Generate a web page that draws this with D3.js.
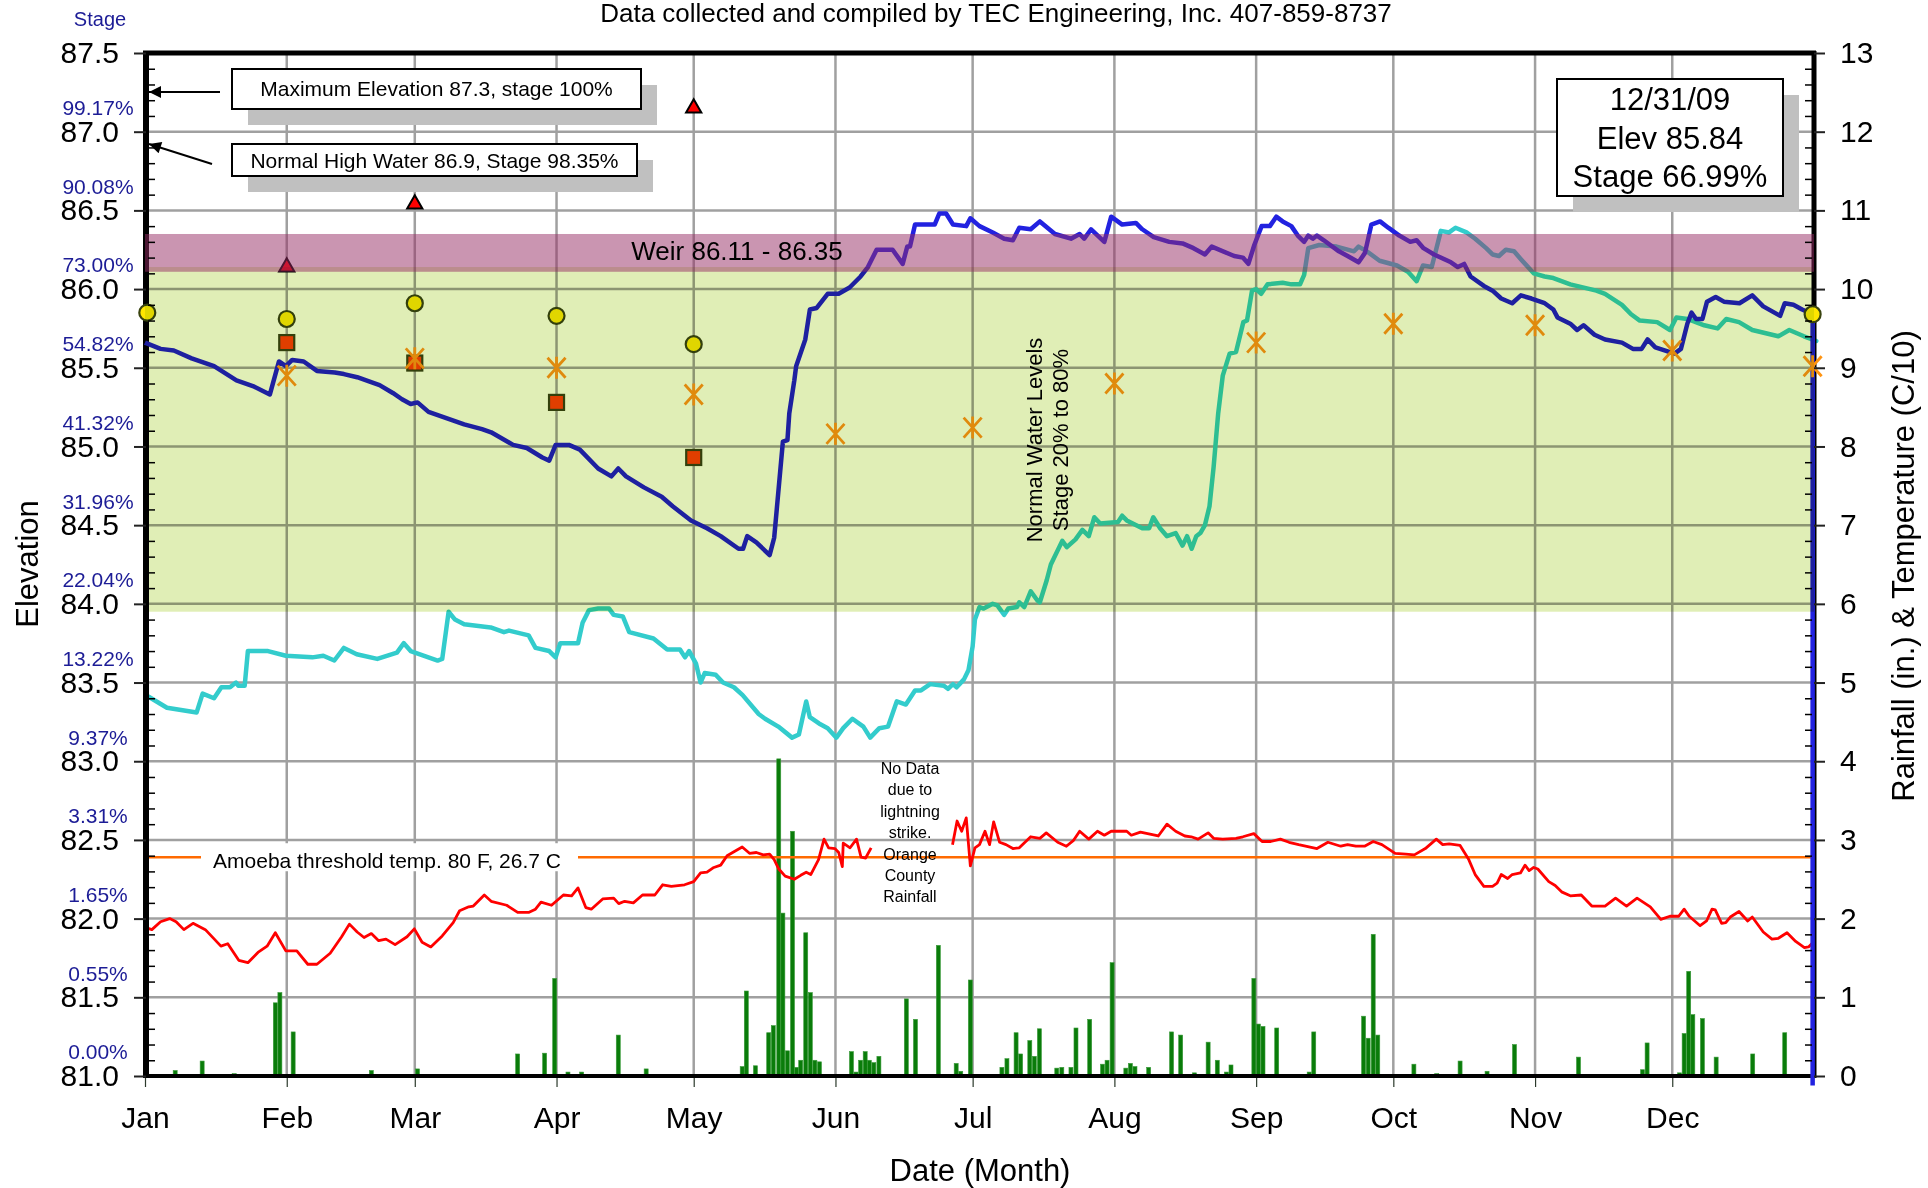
<!DOCTYPE html>
<meta charset="utf-8">
<script src="https://d3js.org/d3.v7.min.js"></script>
<style>
  body { margin: 0; background: #fff; }
  svg text { font-family: "Liberation Sans", Arial, sans-serif; }
</style>
<div id="chart"></div>
<script>

  // ---- data ----
  var months = ["Jan", "Feb", "Mar", "Apr", "May", "Jun", "Jul", "Aug", "Sep", "Oct", "Nov", "Dec"];
  var monthStartDays = [0, 31, 59, 90, 120, 151, 181, 212, 243, 273, 304, 334];

  var elevTicks = [81.0, 81.5, 82.0, 82.5, 83.0, 83.5, 84.0, 84.5, 85.0, 85.5, 86.0, 86.5, 87.0, 87.5];
  // stage % shown next to the elevations 81.0 ... 87.0
  var stageLabels = ["0.00%", "0.55%", "1.65%", "3.31%", "9.37%", "13.22%", "22.04%",
    "31.96%", "41.32%", "54.82%", "73.00%", "90.08%", "99.17%"];
  var rightTicks = [0, 1, 2, 3, 4, 5, 6, 7, 8, 9, 10, 11, 12, 13];

  var normalBand = [83.95, 86.14];   // normal water levels (stage 20% to 80%)
  var weirBand = [86.11, 86.35];
  var amoebaThreshold = 2.78;        // right axis units

  // elevation 2009 [day of year, ft]
  var elevation = [[0,85.66],[3.4,85.62],[6.3,85.61],[10.2,85.56],[15.1,85.51],[20.0,85.42],[23.9,85.38],[27.3,85.33],
    [29.3,85.54],[30.8,85.51],[32.2,85.55],[34.7,85.54],[37.6,85.48],[41.5,85.47],[43.5,85.46],[46.4,85.44],[49.3,85.41],
    [51.3,85.39],[54.2,85.34],[56.2,85.30],[58.1,85.27],[59.6,85.28],[62.0,85.22],[65.9,85.18],[69.8,85.14],[73.7,85.11],
    [75.7,85.09],[80.5,85.01],[83.5,84.99],[86.9,84.93],[88.4,84.91],[89.8,85.01],[92.7,85.01],[95.1,84.98],[99.1,84.86],
    [102.0,84.81],[103.5,84.86],[105.2,84.81],[109.1,84.74],[113.0,84.68],[115.4,84.62],[119.4,84.53],[122.9,84.48],
    [125.9,84.43],[129.8,84.35],[130.8,84.35],[131.7,84.43],[133.7,84.39],[136.6,84.31],[137.6,84.42],[139.5,85.03],
    [140.5,85.04],[140.9,85.21],[142.0,85.42],[142.4,85.51],[144.4,85.68],[145.4,85.87],[146.9,85.88],[149.3,85.97],
    [151.7,85.97],[154.1,86.01],[156.5,86.08],[158.1,86.14],[160.0,86.25],[163.5,86.25],[165.7,86.16],[166.7,86.27],
    [167.3,86.27],[168.4,86.41],[172.7,86.41],[173.7,86.48],[175.2,86.48],[176.7,86.41],[179.6,86.40],[180.5,86.45],
    [182.5,86.40],[185.4,86.36],[187.9,86.32],[189.8,86.31],[191.2,86.39],[193.7,86.38],[195.7,86.43],[199.0,86.35],
    [202.5,86.32],[204.4,86.35],[205.4,86.32],[206.9,86.38],[209.8,86.30],[211.3,86.46],[213.7,86.41],[216.7,86.42],
    [218.1,86.38],[220.6,86.33],[224.0,86.30],[226.9,86.29],[229.3,86.26],[231.8,86.22],[233.3,86.27],[238.2,86.21],
    [240.1,86.20],[241.3,86.16],[242.6,86.28],[244.2,86.40],[246.0,86.40],[247.4,86.46],[248.8,86.43],[250.7,86.40],
    [252.1,86.34],[253.5,86.30],[254.4,86.34],[255.4,86.32],[256.3,86.34],[257.8,86.31],[259.2,86.28],[261.1,86.24],
    [263.0,86.21],[265.4,86.17],[266.8,86.23],[268.2,86.41],[270.1,86.43],[271.9,86.39],[274.3,86.34],[276.7,86.30],
    [278.1,86.31],[279.6,86.26],[281.9,86.22],[285.6,86.17],[287.1,86.14],[288.5,86.16],[289.9,86.08],[292.8,86.02],
    [294.7,85.99],[296.6,85.94],[299.0,85.91],[300.9,85.96],[303.2,85.94],[306.1,85.91],[308.0,85.87],[308.9,85.82],
    [311.7,85.78],[313.2,85.74],[314.6,85.77],[317.0,85.71],[319.3,85.68],[323.0,85.66],[325.4,85.62],[327.3,85.62],
    [328.6,85.68],[330.3,85.63],[334.5,85.59],[335.9,85.62],[337.3,85.78],[338.2,85.85],[339.2,85.81],[340.6,85.81],
    [341.6,85.92],[343.5,85.95],[345.3,85.92],[348.7,85.91],[351.5,85.96],[353.9,85.89],[357.6,85.83],[358.6,85.91],
    [360.5,85.90],[362.4,85.87],[364.7,85.84],[364.7,80.94]];

  // elevation, prior year (teal line)
  var elevationPrior = [[0.8,83.41],[4.8,83.34],[11.3,83.31],[12.6,83.43],[15.1,83.40],[16.7,83.47],[18.6,83.47],
    [19.9,83.50],[20.4,83.48],[21.8,83.48],[22.5,83.70],[26.9,83.70],[30.8,83.67],[36.6,83.66],[39.0,83.67],[41.4,83.64],
    [43.5,83.72],[46.3,83.68],[50.8,83.65],[55.1,83.69],[56.6,83.75],[58.1,83.70],[64.0,83.64],[65.0,83.65],[66.4,83.95],
    [67.8,83.90],[69.8,83.87],[75.6,83.85],[78.5,83.82],[79.6,83.83],[83.9,83.80],[85.4,83.72],[88.4,83.70],[89.8,83.66],
    [90.8,83.75],[94.7,83.75],[95.7,83.88],[97.1,83.96],[99.1,83.97],[101.5,83.97],[102.5,83.93],[104.5,83.92],
    [105.9,83.82],[111.2,83.78],[114.2,83.71],[117.0,83.71],[118.1,83.66],[119.0,83.70],[120.5,83.62],[121.5,83.50],
    [122.4,83.56],[124.8,83.55],[126.4,83.50],[128.8,83.47],[130.7,83.42],[134.2,83.30],[135.6,83.27],[138.5,83.22],
    [141.5,83.15],[143.0,83.17],[144.6,83.38],[145.4,83.28],[147.4,83.24],[149.3,83.21],[151.2,83.15],[152.7,83.21],
    [154.7,83.27],[157.1,83.22],[158.6,83.15],[160.6,83.21],[162.5,83.22],[164.4,83.38],[166.4,83.36],[168.4,83.45],
    [169.7,83.45],[171.7,83.49],[174.7,83.48],[175.6,83.46],[176.7,83.49],[177.5,83.47],[179.1,83.52],[180.1,83.58],
    [181.0,83.73],[181.5,83.90],[182.5,83.98],[183.4,83.97],[185.4,84.00],[186.4,83.99],[187.9,83.93],[188.8,83.97],
    [190.7,83.98],[191.2,84.01],[192.3,83.98],[193.7,84.08],[195.2,84.02],[195.7,84.01],[197.2,84.15],[198.1,84.25],
    [200.6,84.40],[201.6,84.36],[203.5,84.41],[205.0,84.47],[206.4,84.43],[207.6,84.55],[208.9,84.51],[212.8,84.52],
    [213.7,84.56],[214.7,84.53],[218.1,84.48],[219.6,84.48],[220.5,84.55],[222.0,84.48],[223.5,84.43],[225.4,84.45],
    [226.9,84.37],[227.9,84.43],[228.9,84.35],[229.9,84.43],[230.8,84.45],[231.8,84.50],[232.8,84.62],[233.7,84.87],
    [234.7,85.21],[235.7,85.45],[237.2,85.59],[238.6,85.60],[240.2,85.79],[241.0,85.80],[242.1,85.99],[243.0,86.00],
    [244.1,85.97],[245.5,86.03],[248.8,86.04],[250.7,86.03],[252.6,86.03],[253.5,86.09],[254.4,86.26],[256.8,86.28],
    [260.6,86.27],[264.4,86.24],[265.4,86.27],[267.2,86.24],[270.0,86.18],[273.8,86.15],[276.2,86.11],[278.1,86.05],
    [279.5,86.15],[281.4,86.14],[283.4,86.37],[285.2,86.36],[286.6,86.39],[289.0,86.36],[290.9,86.32],[293.3,86.26],
    [294.7,86.22],[296.1,86.21],[297.6,86.25],[299.4,86.24],[300.9,86.19],[303.7,86.10],[306.1,86.08],[308.0,86.07],
    [311.7,86.03],[317.4,85.99],[319.3,85.97],[323.0,85.90],[325.0,85.84],[326.9,85.80],[330.7,85.79],[333.5,85.74],
    [334.9,85.82],[337.3,85.81],[341.0,85.77],[343.9,85.75],[345.8,85.81],[348.6,85.79],[351.5,85.74],[357.2,85.70],
    [359.6,85.74],[362.8,85.70],[365.5,85.67]];

  // water temperature (C/10), before and after the lightning gap
  var tempBefore = [[0.5,1.88],[1.5,1.86],[3.4,1.96],[5.4,2.00],[6.8,1.96],[8.5,1.86],[10.5,1.94],[13.2,1.86],[16.6,1.65],
    [18.1,1.68],[20.5,1.47],[22.5,1.44],[24.7,1.57],[26.7,1.65],[28.5,1.82],[30.8,1.59],[33.2,1.59],[35.6,1.42],[37.6,1.42],
    [40.5,1.56],[43.0,1.77],[44.7,1.93],[46.4,1.83],[47.9,1.76],[49.5,1.81],[51.1,1.72],[52.7,1.74],[54.7,1.67],[57.3,1.77],
    [58.9,1.87],[60.6,1.70],[62.5,1.64],[65.0,1.78],[67.4,1.95],[68.8,2.10],[70.8,2.15],[71.8,2.16],[74.2,2.30],[75.7,2.22],
    [79.1,2.17],[81.5,2.08],[84.0,2.08],[85.4,2.12],[86.6,2.21],[88.9,2.17],[91.5,2.30],[93.3,2.29],[94.7,2.39],[96.4,2.14],
    [97.6,2.12],[100.1,2.25],[102.5,2.26],[103.6,2.19],[104.9,2.22],[106.8,2.20],[108.8,2.30],[111.5,2.30],[113.2,2.43],
    [115.1,2.41],[118.0,2.43],[120.0,2.47],[121.5,2.58],[122.9,2.59],[124.4,2.65],[125.9,2.68],[127.3,2.80],[128.8,2.85],
    [130.6,2.91],[132.2,2.83],[133.7,2.84],[135.2,2.81],[136.6,2.82],[137.6,2.75],[138.6,2.63],[140.0,2.54],[142.0,2.50],
    [143.4,2.55],[144.6,2.59],[145.6,2.56],[147.3,2.75],[148.5,3.01],[149.5,2.90],[150.9,2.89],[151.7,2.84],[152.5,2.66],
    [152.7,2.96],[154.2,2.90],[155.6,3.01],[156.6,2.78],[157.6,2.77],[158.8,2.90]];
  var tempAfter = [[176.6,2.94],[177.6,3.24],[178.6,3.11],[179.6,3.28],[180.5,2.67],[181.5,2.90],[182.5,2.94],[183.7,3.11],
    [184.7,2.94],[185.6,3.23],[186.9,2.97],[188.3,2.94],[189.8,2.89],[191.2,2.90],[193.7,3.04],[195.7,3.02],[197.1,3.09],
    [199.6,2.97],[201.5,2.92],[203.0,2.99],[204.4,3.11],[206.4,3.01],[208.3,3.11],[209.8,3.06],[211.3,3.11],[214.7,3.11],
    [215.7,3.06],[217.7,3.10],[221.6,3.05],[223.5,3.20],[225.4,3.11],[227.4,3.05],[228.8,3.04],[230.3,3.01],[232.5,3.09],
    [233.7,3.02],[235.7,3.01],[238.6,3.02],[240.1,3.04],[242.5,3.08],[244.3,2.98],[246.2,2.98],[248.3,3.01],[250.2,2.97],
    [252.3,2.94],[256.3,2.89],[258.7,2.97],[261.5,2.92],[263.0,2.94],[264.8,2.92],[266.7,2.92],[268.6,2.98],[270.5,2.94],
    [273.4,2.83],[275.7,2.82],[277.6,2.81],[280.0,2.89],[282.4,3.01],[283.8,2.94],[285.2,2.95],[287.6,2.93],[289.5,2.75],
    [290.9,2.56],[292.8,2.41],[294.7,2.41],[295.7,2.45],[296.6,2.56],[298.0,2.51],[299.0,2.56],[300.8,2.58],[301.8,2.68],
    [302.7,2.61],[303.7,2.65],[304.6,2.63],[307.0,2.47],[308.4,2.42],[309.8,2.34],[311.7,2.29],[314.1,2.30],[316.4,2.16],
    [319.3,2.16],[321.6,2.26],[324.0,2.16],[326.3,2.26],[329.2,2.15],[331.5,1.99],[333.5,2.03],[335.4,2.03],[336.6,2.12],
    [337.7,2.03],[340.1,1.91],[341.5,1.97],[342.7,2.12],[343.4,2.11],[344.8,1.94],[345.7,1.95],[346.7,2.02],[348.6,2.09],
    [350.5,1.97],[351.5,2.02],[353.9,1.83],[355.8,1.74],[357.2,1.75],[359.1,1.82],[361.0,1.71],[362.9,1.63],[363.8,1.64],
    [365,1.71]];

  // daily rainfall (in.)
  var rainfall = [[4.6,0.02],[6.6,0.07],[10.5,0.02],[11.3,0.02],[12.5,0.19],[19.5,0.03],[26.4,0.02],[28.5,0.93],[29.5,1.06],
    [32.4,0.56],[38.6,0.02],[45.6,0.02],[49.5,0.07],[59.6,0.09],[80.5,0.02],[81.5,0.28],[87.4,0.29],[89.6,1.24],[90.5,0.02],
    [91.5,0.02],[92.5,0.05],[95.5,0.05],[103.5,0.52],[109.6,0.09],[130.6,0.12],[131.5,1.08],[133.5,0.13],[136.4,0.55],
    [137.4,0.64],[138.6,4.03],[139.5,2.07],[140.5,0.32],[141.6,3.11],[142.5,0.11],[143.4,0.20],[144.5,1.82],[145.5,1.06],
    [146.5,0.20],[147.5,0.18],[154.5,0.31],[155.5,0.05],[156.5,0.20],[157.5,0.31],[158.4,0.20],[159.4,0.17],[160.5,0.25],
    [161.5,0.02],[166.5,0.98],[167.5,0.02],[168.5,0.72],[173.5,1.66],[174.5,0.02],[177.4,0.16],[178.4,0.06],[180.5,1.22],
    [187.4,0.11],[188.5,0.22],[189.5,0.02],[190.5,0.55],[191.5,0.28],[193.5,0.45],[194.5,0.25],[195.6,0.60],[199.4,0.10],
    [200.5,0.11],[202.5,0.11],[203.6,0.61],[206.6,0.72],[209.4,0.15],[210.4,0.20],[211.5,1.44],[214.5,0.10],[215.5,0.16],
    [216.5,0.12],[217.5,0.02],[219.5,0.11],[224.5,0.56],[226.5,0.52],[229.5,0.04],[232.5,0.43],[234.5,0.20],[236.5,0.05],
    [237.5,0.14],[242.5,1.24],[243.5,0.66],[244.5,0.63],[245.5,0.02],[247.5,0.61],[254.6,0.05],[255.6,0.56],[266.5,0.76],
    [267.5,0.48],[268.6,1.80],[269.6,0.52],[271.6,0.02],[277.5,0.15],[282.5,0.03],[287.6,0.19],[293.5,0.06],[299.5,0.40],
    [303.2,0.02],[313.5,0.24],[314.5,0.02],[320.6,0.02],[327.5,0.08],[328.5,0.42],[335.6,0.04],[336.6,0.54],[337.6,1.33],
    [338.5,0.78],[340.6,0.73],[341.6,0.02],[343.6,0.24],[349.5,0.02],[351.6,0.28],[358.6,0.55],[360.6,0.02]];

  // monthly point readings [day, elevation]
  var circleMarks = [[0.5,85.85],[31,85.81],[59,85.91],[90,85.83],[120,85.65],[364.7,85.84]];
  var squareMarks = [[31,85.66],[59,85.53],[90,85.28],[120,84.93]];
  var triangleMarks = [[31,86.14],[59,86.54],[120,87.15]];
  var asteriskMarks = [[31,85.45],[59,85.56],[90,85.50],[120,85.33],[151,85.08],[181,85.12],[212,85.40],
    [243,85.66],[273,85.78],[304,85.77],[334,85.61],[364.7,85.51]];

  // ---- layout ----
  var W = 1928, H = 1188;
  var plotL = 145, plotR = 1814, plotT = 53, plotB = 1076;

  var svg = d3.select("#chart").append("svg")
    .attr("width", W).attr("height", H);

  svg.append("rect").attr("width", W).attr("height", H).attr("fill", "#fff");

  var x = d3.scaleLinear().domain([0, 365]).range([plotL, plotR]);
  var yL = d3.scaleLinear().domain([81, 87.5]).range([plotB, plotT]);
  var yR = d3.scaleLinear().domain([0, 13]).range([plotB, plotT]);

  // grid
  svg.append("g").selectAll("line")
    .data(elevTicks.filter(function (d) { return d > 81 && d < 87.5; }))
    .enter().append("line")
    .attr("x1", plotL).attr("x2", plotR)
    .attr("y1", function (d) { return yL(d); }).attr("y2", function (d) { return yL(d); })
    .attr("stroke", "#a0a0a0").attr("stroke-width", 2.5);
  svg.append("g").selectAll("line")
    .data(monthStartDays.slice(1))
    .enter().append("line")
    .attr("x1", function (d) { return x(d); }).attr("x2", function (d) { return x(d); })
    .attr("y1", plotT).attr("y2", plotB)
    .attr("stroke", "#a0a0a0").attr("stroke-width", 2.5);

  // rainfall bars
  svg.append("g").selectAll("rect")
    .data(rainfall)
    .enter().append("rect")
    .attr("x", function (d) { return x(d[0]) - 2; })
    .attr("width", 4)
    .attr("y", function (d) { return yR(d[1]); })
    .attr("height", function (d) { return plotB - yR(d[1]); })
    .attr("fill", "#0a7c0a")
    .attr("stroke", "#3a9a3a").attr("stroke-width", 0.6);

  // amoeba threshold line with its label
  svg.append("line")
    .attr("x1", plotL).attr("x2", plotR)
    .attr("y1", yR(amoebaThreshold)).attr("y2", yR(amoebaThreshold))
    .attr("stroke", "#ff6a00").attr("stroke-width", 2.5);
  svg.append("rect")
    .attr("x", 201).attr("y", yR(amoebaThreshold) - 14).attr("width", 377).attr("height", 28)
    .attr("fill", "#fff");
  svg.append("text")
    .attr("x", 387).attr("y", yR(amoebaThreshold) + 11)
    .attr("text-anchor", "middle").attr("font-size", 21)
    .text("Amoeba threshold temp. 80 F, 26.7 C");

  // temperature
  var tline = d3.line().x(function (d) { return x(d[0]); }).y(function (d) { return yR(d[1]); });
  [tempBefore, tempAfter].forEach(function (seg) {
    svg.append("path").datum(seg)
      .attr("d", tline).attr("fill", "none")
      .attr("stroke", "#ff0000").attr("stroke-width", 2.8).attr("stroke-linejoin", "round");
  });

  // elevation lines
  var eline = d3.line().x(function (d) { return x(d[0]); }).y(function (d) { return yL(d[1]); });
  svg.append("path").datum(elevationPrior)
    .attr("d", eline).attr("fill", "none")
    .attr("stroke", "#33cccc").attr("stroke-width", 4.5)
    .attr("stroke-linejoin", "round").attr("stroke-linecap", "round");

  // axes lines (drawn under the 2009 elevation line, which runs down the right edge)
  svg.append("line").attr("x1", plotL + 1).attr("x2", plotL + 1).attr("y1", plotT - 2).attr("y2", plotB + 2)
    .attr("stroke", "#000").attr("stroke-width", 6);
  svg.append("line").attr("x1", plotR).attr("x2", plotR).attr("y1", plotT - 2).attr("y2", plotB + 2)
    .attr("stroke", "#000").attr("stroke-width", 5);
  svg.append("line").attr("x1", plotL - 2).attr("x2", plotR + 2).attr("y1", plotT).attr("y2", plotT)
    .attr("stroke", "#000").attr("stroke-width", 5);
  svg.append("line").attr("x1", plotL - 2).attr("x2", plotR + 2).attr("y1", plotB).attr("y2", plotB)
    .attr("stroke", "#000").attr("stroke-width", 4);

  svg.append("path").datum(elevation)
    .attr("d", eline).attr("fill", "none")
    .attr("stroke", "#2222e0").attr("stroke-width", 4.5).attr("stroke-linejoin", "round");

  // markers
  var mk = svg.append("g");
  mk.selectAll(".sq").data(squareMarks).enter().append("rect")
    .attr("x", function (d) { return x(d[0]) - 7.5; }).attr("y", function (d) { return yL(d[1]) - 7.5; })
    .attr("width", 15).attr("height", 15)
    .attr("fill", "#ff4200").attr("stroke", "#3a4410").attr("stroke-width", 2.2);
  mk.selectAll(".ci").data(circleMarks).enter().append("circle")
    .attr("cx", function (d) { return x(d[0]); }).attr("cy", function (d) { return yL(d[1]); })
    .attr("r", 8)
    .attr("fill", "#ffe600").attr("stroke", "#3a4410").attr("stroke-width", 2.2);
  mk.selectAll(".tr").data(triangleMarks).enter().append("path")
    .attr("transform", function (d) { return "translate(" + x(d[0]) + "," + yL(d[1]) + ")"; })
    .attr("d", d3.symbol().type(d3.symbolTriangle).size(100))
    .attr("fill", "#ff0000").attr("stroke", "#000").attr("stroke-width", 2);
  mk.selectAll(".as").data(asteriskMarks).enter().append("path")
    .attr("transform", function (d) { return "translate(" + x(d[0]) + "," + yL(d[1]) + ")"; })
    .attr("d", "M-9,-10L9,10M-9,10L9,-10M0,-11L0,11")
    .attr("fill", "none").attr("stroke", "#ff9412").attr("stroke-width", 2.8);

  // bands, laid over the series like the original
  svg.append("rect")
    .attr("x", plotL).attr("width", plotR - plotL)
    .attr("y", yL(normalBand[1])).attr("height", yL(normalBand[0]) - yL(normalBand[1]))
    .attr("fill", "#e0eeb6").style("mix-blend-mode", "multiply");
  svg.append("rect")
    .attr("x", plotL).attr("width", plotR - plotL)
    .attr("y", yL(weirBand[1])).attr("height", yL(weirBand[0]) - yL(weirBand[1]))
    .attr("fill", "rgb(150,44,100)").attr("fill-opacity", 0.5);

  svg.append("text").attr("x", 737).attr("y", 260)
    .attr("text-anchor", "middle").attr("font-size", 26)
    .text("Weir 86.11 - 86.35");

  svg.append("text").attr("transform", "translate(1042,440) rotate(-90)")
    .attr("text-anchor", "middle").attr("font-size", 22).text("Normal Water Levels");
  svg.append("text").attr("transform", "translate(1068,440) rotate(-90)")
    .attr("text-anchor", "middle").attr("font-size", 22).text("Stage 20% to 80%");

  var noData = ["No Data", "due to", "lightning", "strike.", "Orange", "County", "Rainfall"];
  svg.append("g").selectAll("text").data(noData).enter().append("text")
    .attr("x", 910).attr("y", function (d, i) { return 774 + i * 21.4; })
    .attr("text-anchor", "middle").attr("font-size", 16)
    .text(function (d) { return d; });

  // annotation boxes
  function box(x0, y0, w, h, lines, fs, base, step) {
    svg.append("rect").attr("x", x0 + 16).attr("y", y0 + 16).attr("width", w).attr("height", h)
      .attr("fill", "#c0c0c0");
    svg.append("rect").attr("x", x0).attr("y", y0).attr("width", w).attr("height", h)
      .attr("fill", "#fff").attr("stroke", "#000").attr("stroke-width", 2);
    lines.forEach(function (t, i) {
      svg.append("text").attr("x", x0 + w / 2).attr("y", base + i * step)
        .attr("text-anchor", "middle").attr("font-size", fs).text(t);
    });
  }
  box(232, 69, 409, 40, ["Maximum Elevation 87.3, stage 100%"], 21, 96, 0);
  box(232, 144, 405, 32, ["Normal High Water 86.9, Stage 98.35%"], 21, 168, 0);
  box(1557, 79, 226, 117, ["12/31/09", "Elev 85.84", "Stage 66.99%"], 31, 110, 38.6);

  // arrows to the left axis
  svg.append("defs").append("marker")
    .attr("id", "ah").attr("viewBox", "0 0 10 10").attr("refX", 10).attr("refY", 5)
    .attr("markerWidth", 16).attr("markerHeight", 12).attr("markerUnits", "userSpaceOnUse")
    .attr("orient", "auto")
    .append("path").attr("d", "M0,0L10,5L0,10z").attr("fill", "#000");
  svg.append("line").attr("x1", 220).attr("y1", 92).attr("x2", 149).attr("y2", 92)
    .attr("stroke", "#000").attr("stroke-width", 2).attr("marker-end", "url(#ah)");
  svg.append("line").attr("x1", 212).attr("y1", 164).attr("x2", 149).attr("y2", 144)
    .attr("stroke", "#000").attr("stroke-width", 2).attr("marker-end", "url(#ah)");

  // left axis: elevation
  var gl = svg.append("g").attr("transform", "translate(" + (plotL + 1) + ",0)")
    .call(d3.axisLeft(yL).tickValues(elevTicks).tickSize(12).tickPadding(15).tickFormat(d3.format(".1f")));
  gl.select(".domain").remove();
  gl.attr("font-family", null).attr("font-size", 30);
  gl.selectAll("line").attr("stroke", "#222").attr("stroke-width", 2);
  gl.selectAll("text").attr("fill", "#000");

  var minorL = d3.range(81.1, 87.5, 0.1).filter(function (d) { return Math.abs(d * 2 - Math.round(d * 2)) > 0.01; });
  var gml = svg.append("g").attr("transform", "translate(" + (plotL + 3) + ",0)")
    .call(d3.axisRight(yL).tickValues(minorL).tickSize(7).tickFormat(""));
  gml.select(".domain").remove();
  gml.selectAll("line").attr("stroke", "#000").attr("stroke-width", 1.5);

  // stage % labels
  svg.append("g").selectAll("text").data(stageLabels).enter().append("text")
    .attr("x", 98).attr("y", function (d, i) { return yL(81 + i * 0.5) - 24; })
    .attr("dy", "0.35em").attr("text-anchor", "middle").attr("font-size", 21)
    .attr("fill", "#1c1c96").text(function (d) { return d; });
  svg.append("text").attr("x", 100).attr("y", 26).attr("text-anchor", "middle")
    .attr("font-size", 20).attr("fill", "#1c1c96").text("Stage");

  // right axis: rainfall & temperature
  var gr = svg.append("g").attr("transform", "translate(" + plotR + ",0)")
    .call(d3.axisRight(yR).tickValues(rightTicks).tickSize(11).tickPadding(15));
  gr.select(".domain").remove();
  gr.attr("font-family", null).attr("font-size", 30);
  gr.selectAll("line").attr("stroke", "#222").attr("stroke-width", 2);
  gr.selectAll("text").attr("fill", "#000");

  var minorR = d3.range(0.2, 13, 0.2).filter(function (d) { return Math.abs(d - Math.round(d)) > 0.01; });
  var gmr = svg.append("g").attr("transform", "translate(" + (plotR - 2) + ",0)")
    .call(d3.axisLeft(yR).tickValues(minorR).tickSize(7).tickFormat(""));
  gmr.select(".domain").remove();
  gmr.selectAll("line").attr("stroke", "#000").attr("stroke-width", 1.5);

  // bottom axis: months
  var gb = svg.append("g").attr("transform", "translate(0," + (plotB + 2) + ")")
    .call(d3.axisBottom(x).tickValues(monthStartDays).tickSize(9).tickPadding(20)
      .tickFormat(function (d, i) { return months[i]; }));
  gb.select(".domain").remove();
  gb.attr("font-family", null).attr("font-size", 30);
  gb.selectAll("line").attr("stroke", "#2c3a2c").attr("stroke-width", 1.2);
  gb.selectAll("text").attr("fill", "#000");

  // titles
  svg.append("text").attr("x", 996).attr("y", 22).attr("text-anchor", "middle")
    .attr("font-size", 26).text("Data collected and compiled by TEC Engineering, Inc. 407-859-8737");
  svg.append("text").attr("x", 980).attr("y", 1181).attr("text-anchor", "middle")
    .attr("font-size", 31).text("Date (Month)");
  svg.append("text").attr("transform", "translate(38,564) rotate(-90)").attr("text-anchor", "middle")
    .attr("font-size", 31).text("Elevation");
  svg.append("text").attr("transform", "translate(1914,566) rotate(-90)").attr("text-anchor", "middle")
    .attr("font-size", 31).text("Rainfall (in.) & Temperature (C/10)");

</script>
